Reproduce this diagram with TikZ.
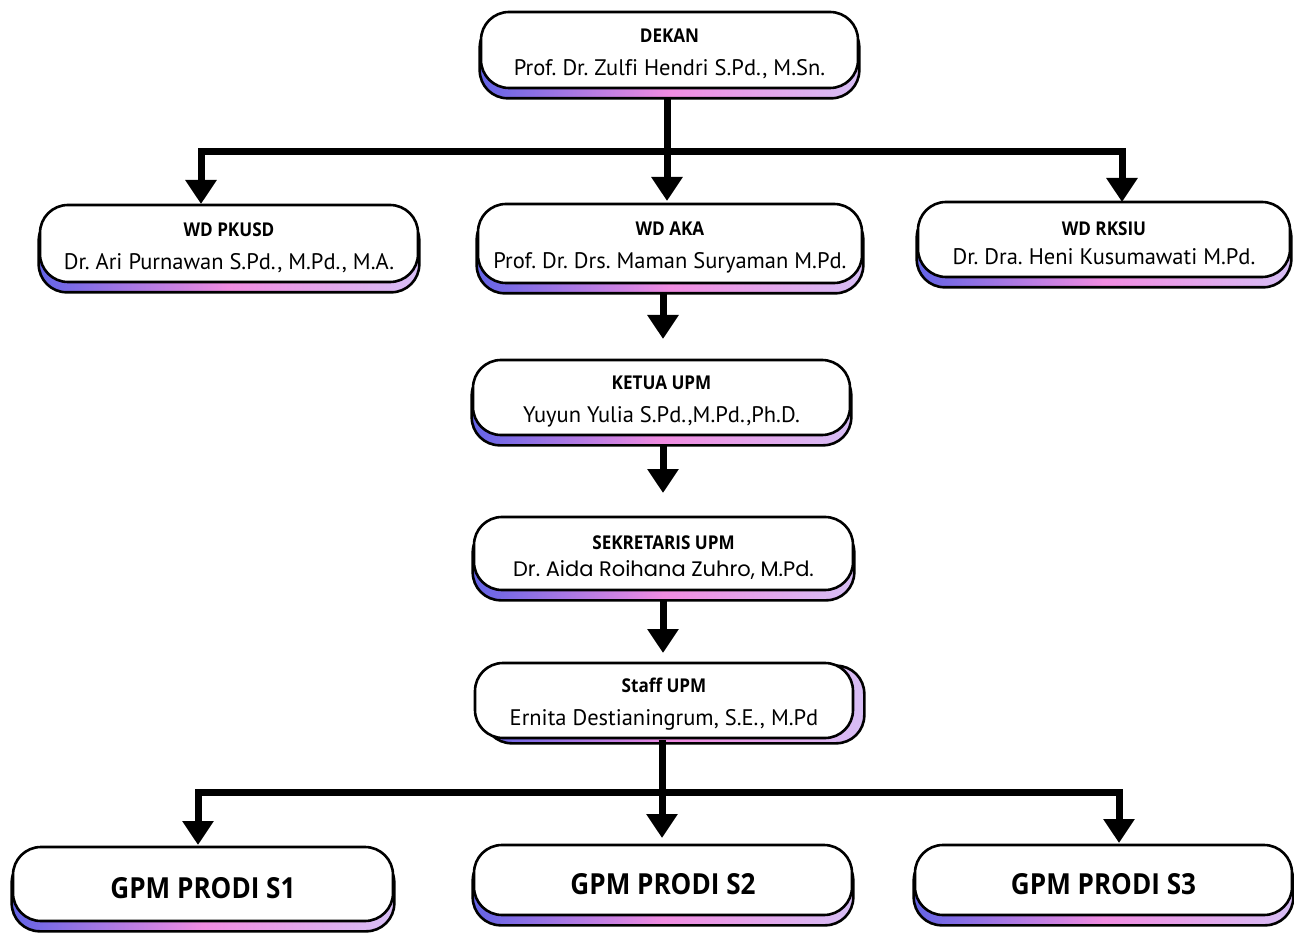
\documentclass[tikz,border=0pt]{standalone}
\usepackage{fontspec}
\setmainfont{PT Sans}[Ligatures=NoCommon]
\newfontfamily\titlefont{Open Sans}[FakeStretch=0.9]
\newfontfamily\popfont{Poppins}
\usetikzlibrary{arrows.meta,backgrounds}
\definecolor{shblue}{RGB}{100,100,230}
\definecolor{shpink}{RGB}{240,140,225}
\definecolor{shlav}{RGB}{215,190,245}
\frenchspacing
\tikzset{
  orgbox/.style={draw=black, line width=2.6pt, rounded corners=28pt, fill=white,
    align=center, inner sep=0pt},
  shadowbox/.style={draw=black, line width=2.6pt, rounded corners=28pt,
    left color=shblue, right color=shlav, middle color=shpink},
  conn/.style={line width=7pt, -{Triangle[width=30pt,length=24pt]}},
  conn2/.style={line width=7pt, line join=miter, {Triangle[width=30pt,length=24pt]}-{Triangle[width=30pt,length=24pt]}},
  plainline/.style={line width=7pt},
}
\newcommand{\ttlf}{\titlefont\bfseries\fontsize{19}{20}\selectfont\rule{0pt}{22pt}}
\newcommand{\namef}{\fontsize{22.5}{22}\selectfont}
\newcommand{\gpmf}{\titlefont\bfseries\fontsize{29}{32}\selectfont}
\begin{document}
\begin{tikzpicture}[x=1pt,y=-1pt]
\useasboundingbox (0,0) rectangle (1294,933);
% nodes
\node[orgbox, minimum width=377pt, minimum height=76pt] (dekan) at (669.5,50)
  {{\ttlf DEKAN}\\[16pt]{\namef Prof. Dr. Zulfi Hendri S.Pd., M.Sn.}};
\node[orgbox, minimum width=378pt, minimum height=77pt] (wd1) at (229,243.5)
  {{\ttlf WD PKUSD}\\[16pt]{\namef Dr. Ari Purnawan S.Pd., M.Pd., M.A.}};
\node[orgbox, minimum width=384pt, minimum height=79pt] (wd2) at (670,243.5)
  {{\ttlf WD AKA}\\[16pt]{\namef Prof. Dr. Drs. Maman Suryaman M.Pd.}};
\node[orgbox, minimum width=372pt, minimum height=75pt] (wd3) at (1104,239.5)
  {{\ttlf WD RKSIU}\\[12pt]{\namef Dr. Dra. Heni Kusumawati M.Pd.}};
\node[orgbox, minimum width=377pt, minimum height=75pt] (ketua) at (661.5,397.5)
  {{\ttlf KETUA UPM}\\[16pt]{\namef Yuyun Yulia S.Pd.,M.Pd.,Ph.D.}};
\node[orgbox, minimum width=379pt, minimum height=73pt] (sek) at (663.5,553.5)
  {{\ttlf SEKRETARIS UPM}\\[10pt]{\popfont\fontsize{21}{20}\selectfont Dr. Aida Roihana Zuhro, M.Pd.}};
\node[orgbox, minimum width=378pt, minimum height=75pt] (staff) at (664,700.5)
  {{\ttlf Staff UPM}\\[16pt]{\namef Ernita Destianingrum, S.E., M.Pd}};
\node[orgbox, minimum width=380pt, minimum height=74pt, font=\gpmf] (g1) at (203,884) {\rule{0pt}{30pt}GPM PRODI S1};
\node[orgbox, minimum width=378pt, minimum height=70pt, font=\gpmf] (g2) at (663,880) {\rule{0pt}{30pt}GPM PRODI S2};
\node[orgbox, minimum width=377pt, minimum height=70pt, font=\gpmf] (g3) at (1103.5,880) {\rule{0pt}{30pt}GPM PRODI S3};
% shadows
\begin{scope}[on background layer]
\foreach \n in {dekan,wd1,wd2,wd3,ketua,sek,g1,g2,g3}{
  \draw[shadowbox] ([yshift=-9pt]\n.south west) rectangle ([yshift=-9pt]\n.north east);
}
\draw[shadowbox] ([xshift=10pt,yshift=-4pt]staff.south west) rectangle ([xshift=10pt,yshift=-4pt]staff.north east);
\end{scope}
% connector points
\coordinate (j1) at (667,152);
\coordinate (t1) at (201,204);
\coordinate (t2) at (667,201);
\coordinate (t3) at (1122,202);
\coordinate (s1) at (667,97);
\coordinate (s2) at (663,293);
\coordinate (t4) at (663,339);
\coordinate (s3) at (663,446);
\coordinate (t5) at (663,493);
\coordinate (s4) at (663,601);
\coordinate (t6) at (663,653);
\coordinate (s5) at (662,740);
\coordinate (j2) at (662,792);
\coordinate (b1) at (198,845);
\coordinate (b2) at (662,838);
\coordinate (b3) at (1119,843);
% connectors
\begin{scope}[on background layer]
\draw[plainline] (s1) -- (j1);
\draw[conn2] (t1) |- (j1) -| (t3);
\draw[conn] (j1) -- (t2);
\draw[conn] (s2) -- (t4);
\draw[conn] (s3) -- (t5);
\draw[conn] (s4) -- (t6);
\draw[plainline] (s5) -- (j2);
\draw[conn2] (b1) |- (j2) -| (b3);
\draw[conn] (j2) -- (b2);
\end{scope}
\end{tikzpicture}
\end{document}
